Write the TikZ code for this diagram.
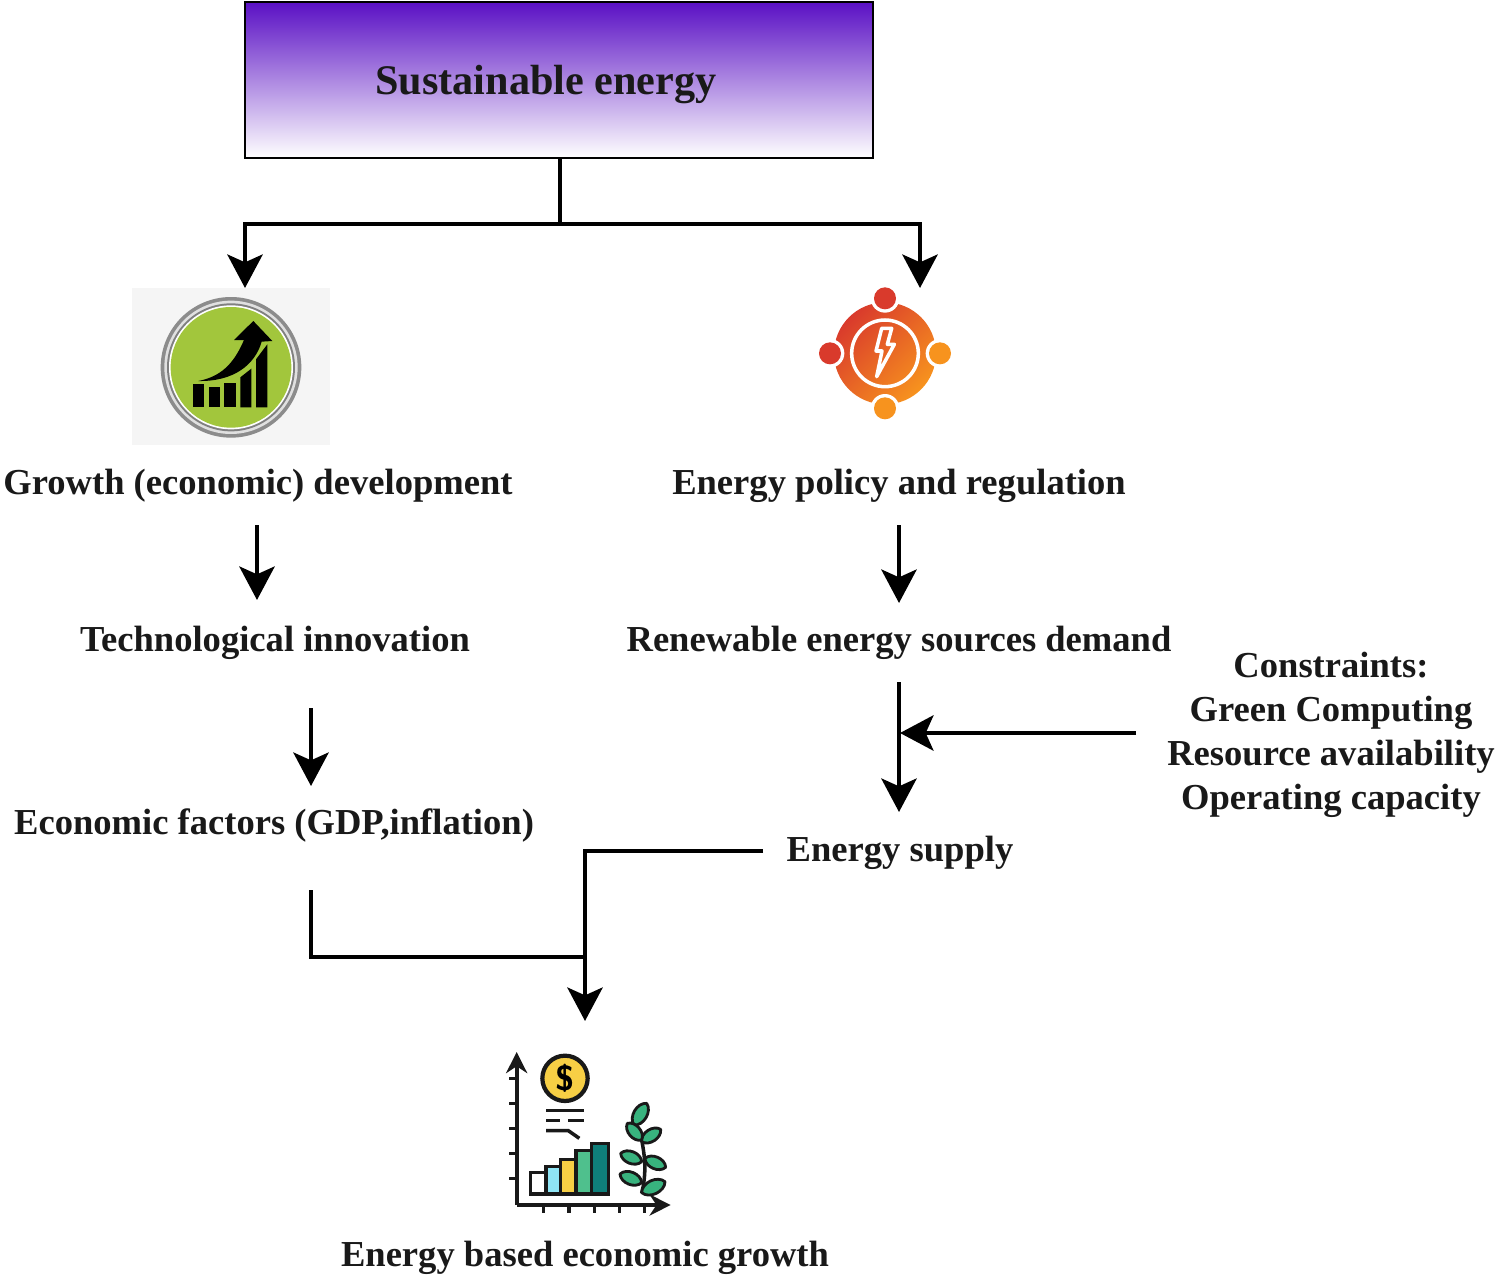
\documentclass[tikz,border=0pt]{standalone}
\usepackage{fontspec}
\setmainfont{Liberation Serif}
\usetikzlibrary{arrows.meta}
\definecolor{boxpurple}{HTML}{5A10C4}
\definecolor{badgegreen}{HTML}{A2C63C}
\definecolor{hotred}{HTML}{D93A2C}
\definecolor{hotorange}{HTML}{F7931E}
\definecolor{coinyellow}{HTML}{F7CF45}
\definecolor{barcyan}{HTML}{8FE5F5}
\definecolor{bargreen}{HTML}{4FC08D}
\definecolor{barteal}{HTML}{0F7F7A}
\definecolor{leafgreen}{HTML}{38B37E}
\tikzset{
	label/.style={font=\bfseries\fontsize{10.4}{12.5}\selectfont,align=center,inner sep=0pt,text=black!90},
	titlelabel/.style={label,font=\bfseries\fontsize{12}{12.5}\selectfont},
	flowline/.style={line width=1.3pt,draw=black},
	flowarrow/.style={flowline,-{Stealth[length=9.5pt,width=10pt,inset=2.2pt]}},
	inkline/.style={line width=1pt,draw=black!90},
	leafshape/.style={line width=.8pt,draw=black!90,fill=leafgreen,line join=round},
}
\begin{document}
\begin{tikzpicture}[x=.01cm,y=-.01cm]
	\useasboundingbox(0,0)rectangle(1500,1279);
	\node[draw=black,line width=.4pt,top color=boxpurple,bottom color=white,minimum width=6.28cm,minimum height=1.56cm,inner sep=0pt](sustbox)at(559,80){};
	\node[titlelabel](sustlabel)at(546,85){Sustainable energy};
	\node[fill=black!4,minimum width=1.98cm,minimum height=1.57cm,inner sep=0pt](growthicon)at(231,366.5){};
	% growth badge
	\begin{scope}[shift={(120,280)},scale=1/3]
		\fill[black!45](333,262)circle(211);
		\fill[black!12](333,262)circle(200);
		\fill[black!50](333,262)circle(192);
		\fill[white](333,262)circle(186);
		\fill[badgegreen](333,262)circle(181);
		\fill[black](220,313)rectangle(252,382);
		\fill[black](266,320)rectangle(299,382);
		\fill[black](313,310)rectangle(347,382);
		\fill[black](361,292)--(394,266)--(394,382)--(361,382)--cycle;
		\fill[black](408,238)--(442,193)--(442,382)--(408,382)--cycle;
		\fill[black](235,303)..controls(300,290)and(340,255)..(372,180)--(342,180)--(400,123)--(457,183)--(425,185)..controls(405,255)and(340,305)..(235,303)--cycle;
	\end{scope}
	% energy badge
	\begin{scope}[shift={(800,275)},scale=1/3]
		\shade[top color=hotred,bottom color=hotorange,shading angle=45](255,235)circle(153);
		\draw[white,line width=1pt](255,235)circle(100);
		\foreach \cx/\cy/\cc in {255/70/hotred,90/235/hotred,420/235/hotorange,255/400/hotorange}{
			\fill[white](\cx,\cy)circle(43);
			\fill[\cc](\cx,\cy)circle(33);
		}
		\draw[white,line width=1pt,line join=round](245,160)--(275,160)--(262,208)--(283,208)--(230,305)--(246,228)--(228,228)--cycle;
	\end{scope}
	% growth chart icon
	\begin{scope}[shift={(490,1030)},scale=1/3]
		\draw[inkline,line width=1.2pt,-{Stealth[length=6pt,width=6pt]}](80,525)--(80,66);
		\draw[inkline,line width=1.2pt,-{Stealth[length=6pt,width=6pt]}](80,525)--(542,525);
		\foreach \ty in {145,220,295,370,445}{\draw[inkline](58,\ty)--(80,\ty);}
		\foreach \tx in {160,237,313,388,463}{\draw[inkline](\tx,525)--(\tx,550);}
		\draw[inkline,line width=1.2pt,fill=coinyellow](225,145)circle(68);
		\node[inner sep=0pt,font=\sffamily\bfseries\fontsize{10}{10}\selectfont](coinsign)at(225,145){\$};
		\draw[inkline](168,242)--(282,242);
		\draw[inkline](168,272)--(210,272);
		\draw[inkline](235,272)--(282,272);
		\draw[inkline](168,302)--(235,302)--(268,325);
		\draw[inkline,fill=white](122,428)rectangle(168,492);
		\draw[inkline,fill=barcyan](168,410)rectangle(212,492);
		\draw[inkline,fill=coinyellow](212,388)rectangle(258,492);
		\draw[inkline,fill=bargreen](258,362)rectangle(305,492);
		\draw[inkline,fill=barteal](305,340)rectangle(355,492);
		\draw[inkline](455,490)..controls(470,430)and(465,380)..(455,330)--(435,285);
		\foreach \ax/\ay/\bx/\by in {432/285/470/220,455/335/512/298,455/330/412/280,455/395/392/370,465/385/527/412,455/458/390/432,455/488/525/455}{
			\draw[leafshape](\ax,\ay)to[bend left=65](\bx,\by)to[bend left=65](\ax,\ay)--cycle;
		}
	\end{scope}
	\node[label](growthlabel)at(258,486){Growth (economic) development};
	\node[label](policylabel)at(899,486){Energy policy and regulation};
	\node[label](techlabel)at(275,643){Technological innovation};
	\node[label](renewlabel)at(899,643){Renewable energy sources demand};
	\node[label](econlabel)at(274,826){Economic factors (GDP,inflation)};
	\node[label](supplylabel)at(900,853){Energy supply};
	\node[label](constraintlabel)at(1331,735){Constraints:\\Green Computing\\Resource availability\\Operating capacity};
	\node[label](basedlabel)at(585,1258){Energy based economic growth};
	\coordinate(trunk)at(560,224);
	\coordinate(growthtip)at(245,288);
	\coordinate(policytip)at(920,288);
	\coordinate(growthout)at(257,525);
	\coordinate(techin)at(257,600);
	\coordinate(techout)at(311,708);
	\coordinate(econin)at(311,786);
	\coordinate(policyout)at(899,525);
	\coordinate(renewin)at(899,603);
	\coordinate(renewout)at(899,682);
	\coordinate(supplyin)at(899,812);
	\coordinate(constraintout)at(1136,733);
	\coordinate(constraintin)at(900,733);
	\coordinate(supplyout)at(763,851);
	\coordinate(econout)at(311,890);
	\coordinate(joinpoint)at(585,957);
	\coordinate(basedtip)at(585,1021);
	\draw[flowline](sustbox.south-|trunk)--(trunk);
	\draw[flowarrow](trunk)-|(growthtip);
	\draw[flowarrow](trunk)-|(policytip);
	\draw[flowarrow](growthout)--(techin);
	\draw[flowarrow](techout)--(econin);
	\draw[flowarrow](policyout)--(renewin);
	\draw[flowarrow](renewout)--(supplyin);
	\draw[flowarrow](constraintout)--(constraintin);
	\draw[flowarrow](supplyout)-|(basedtip);
	\draw[flowline](econout)|-(joinpoint);
\end{tikzpicture}
\end{document}
